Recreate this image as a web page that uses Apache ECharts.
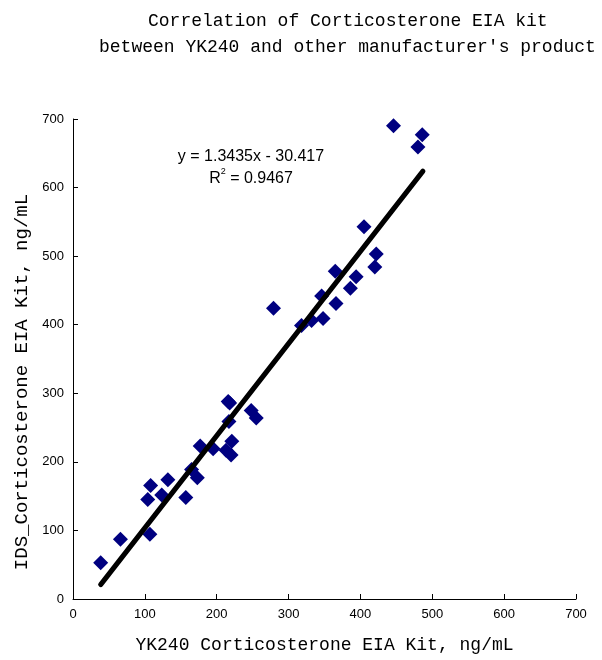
<!DOCTYPE html>
<html><head><meta charset="utf-8">
<script src="https://cdn.jsdelivr.net/npm/echarts@6/dist/echarts.min.js"></script>
<style>html,body{margin:0;padding:0;background:#fff}#c{width:602px;height:660px}</style>
</head><body><div id="c"></div>
<script>
// YK240 (x) vs IDS (y), ng/mL
const xValues = [38.5, 66, 107, 104, 108, 123.5, 132, 157, 165, 173, 177, 195, 213, 220, 221, 217, 216, 218, 248, 255, 279, 318, 332, 348, 346, 366, 365, 386, 394, 405, 420, 422, 446, 480, 486];
const yValues = [53, 87, 94.5, 145, 165.5, 151.5, 174, 148, 189, 177, 223, 219, 217, 210, 230, 259, 288, 286, 275, 264, 424, 399, 406, 409, 442, 431, 478, 453, 470, 543, 484, 503, 690, 659, 677];
const trendX = [38.5, 487];
const trendY = [21, 624];
const xTicks = [0, 100, 200, 300, 400, 500, 600, 700];
const yTicks = [0, 100, 200, 300, 400, 500, 600, 700];
const titleLines = ['Correlation of Corticosterone EIA kit', "between YK240 and other manufacturer's product"];
const xName = 'YK240 Corticosterone EIA Kit, ng/mL';
const yName = 'IDS_Corticosterone EIA Kit, ng/mL';
const equationText = 'y = 1.3435x - 30.417';
const r2Value = '0.9467';

const points = xValues.map((x, i) => [x, yValues[i]]);
const trend = trendX.map((x, i) => [x, trendY[i]]);
const mono = 'Liberation Mono';
const sans = 'Liberation Sans';

const chart = echarts.init(document.getElementById('c'), null, {renderer: 'canvas'});
const axisCommon = {
  type: 'value', min: xTicks[0], max: xTicks[xTicks.length - 1], interval: xTicks[1] - xTicks[0],
  axisLine: {show: true, lineStyle: {color: '#000', width: 1}},
  axisTick: {show: true, inside: true, length: 5, lineStyle: {color: '#000'}},
  splitLine: {show: false},
  axisLabel: {color: '#000', fontSize: 13, fontFamily: sans, margin: 9}
};
chart.setOption({
  animation: false,
  backgroundColor: '#fff',
  title: [
    {text: titleLines[0], left: 148, top: 12, padding: 0,
     textStyle: {fontFamily: mono, fontSize: 18, fontWeight: 'normal', color: '#000'}},
    {text: titleLines[1], left: 99, top: 38, padding: 0,
     textStyle: {fontFamily: mono, fontSize: 18, fontWeight: 'normal', color: '#000'}}
  ],
  grid: {left: 73, right: 26, top: 119, bottom: 61},
  xAxis: Object.assign({}, axisCommon, {
    name: xName, nameLocation: 'middle', nameGap: 37,
    nameTextStyle: {fontFamily: mono, fontSize: 18, color: '#000'}
  }),
  yAxis: Object.assign({}, axisCommon, {
    min: yTicks[0], max: yTicks[yTicks.length - 1], interval: yTicks[1] - yTicks[0],
    name: yName, nameLocation: 'middle', nameGap: 42, nameRotate: 90,
    nameTextStyle: {fontFamily: mono, fontSize: 19, color: '#000', padding: [0, 46, 0, 0]}
  }),
  graphic: [
    {type: 'text', x: 251, y: 157, style: {text: equationText, font: '16px ' + sans, fill: '#000',
      align: 'center', verticalAlign: 'middle'}},
    {type: 'text', x: 251, y: 177, style: {
      text: '{a|R}{s|2}{a| = ' + r2Value + '}', align: 'center', verticalAlign: 'middle',
      rich: {a: {fontSize: 16, fontFamily: sans, color: '#000', lineHeight: 20, verticalAlign: 'bottom'},
             s: {fontSize: 9, fontFamily: sans, color: '#000', lineHeight: 20, verticalAlign: 'top'}}
    }}
  ],
  series: [
    {type: 'scatter', data: points, symbol: 'diamond', symbolSize: 15,
     itemStyle: {color: '#000080', opacity: 1}, z: 2},
    {type: 'line', data: trend, showSymbol: false, symbol: 'none',
     lineStyle: {color: '#000', width: 5, cap: 'round'}, z: 3}
  ]
});
</script></body></html>
